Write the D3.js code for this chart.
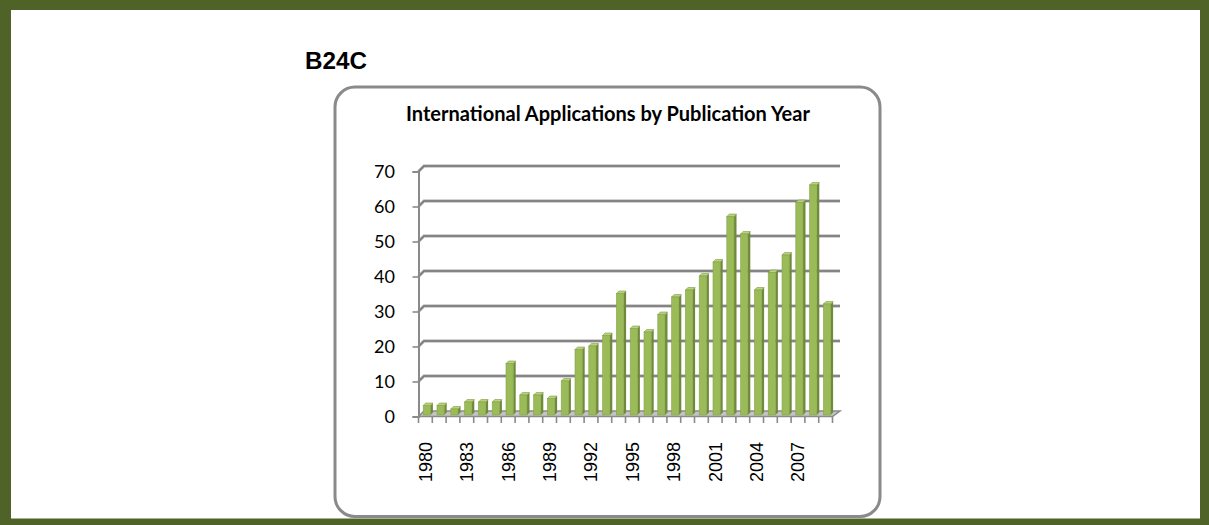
<!DOCTYPE html>
<html>
<head>
<meta charset="utf-8">
<script src="https://cdn.jsdelivr.net/npm/d3@7"></script>
<style>
  html, body { margin: 0; padding: 0; background: #ffffff; }
  svg { display: block; }
</style>
</head>
<body>
<svg id="chart" width="1209" height="525"></svg>
<script>
// ---- data ----
const years = ["1980","1981","1982","1983","1984","1985","1986","1987","1988","1989",
               "1990","1991","1992","1993","1994","1995","1996","1997","1998","1999",
               "2000","2001","2002","2003","2004","2005","2006","2007","2008","2009"];
const counts = [3,3,2,4,4,4,15,6,6,5,
                10,19,20,23,35,25,24,29,34,36,
                40,44,57,52,36,41,46,61,66,32];
const yTicks = [0,10,20,30,40,50,60,70];
const xTickLabels = ["1980","1983","1986","1989","1992","1995","1998","2001","2004","2007"];
const panelLabel = "B24C";
const chartTitle = "International Applications by Publication Year";

// ---- layout ----
const W = 1209, H = 525;
const svg = d3.select("#chart");

// outer olive frame
svg.append("rect").attr("x",0).attr("y",0).attr("width",W).attr("height",H).attr("fill","#4f6228");
svg.append("rect").attr("x",11).attr("y",10).attr("width",1189).attr("height",508.5).attr("fill","#ffffff");

// panel label
svg.append("text").attr("x",305).attr("y",69)
  .attr("font-family","'Liberation Sans', Arial, sans-serif").attr("font-weight","bold")
  .attr("font-size",23).attr("textLength",62).attr("lengthAdjust","spacingAndGlyphs")
  .attr("fill","#000").text(panelLabel);

// chart box
svg.append("rect").attr("x",335).attr("y",87).attr("width",545).attr("height",429.5)
  .attr("rx",20).attr("ry",20).attr("fill","#ffffff")
  .attr("stroke","#8a8a8a").attr("stroke-width",3);

// title
const title = svg.append("text").attr("x",608).attr("y",121).attr("text-anchor","middle")
  .attr("font-family","Lato, 'Open Sans', sans-serif").attr("font-weight","bold")
  .attr("font-size",16).attr("fill","#000").text(chartTitle);
const tw = title.node().getComputedTextLength();
title.attr("font-size", 16 * 404 / tw);

// scales
const x = d3.scaleBand().domain(years).range([418.5, 832.5]);
const y = d3.scaleLinear().domain([0,70]).range([416.5, 171.5]);
const DX = 5.5, DY = -5.5;        // wall depth
const bw = x.bandwidth();

const grid = svg.append("g");
// back-wall gridlines with perspective diagonal
yTicks.filter(v => v > 0).forEach(v => {
  const p = d3.path();
  p.moveTo(x.range()[0], y(v));
  p.lineTo(x.range()[0] + DX, y(v) + DY);
  p.lineTo(x.range()[1] + DX + 2, y(v) + DY);
  grid.append("path").attr("d", p.toString()).attr("fill","none")
    .attr("stroke","#a6a6a6").attr("stroke-width",3);
  grid.append("path").attr("d", p.toString()).attr("fill","none")
    .attr("stroke","#7a7a7a").attr("stroke-width",1.4);
});

// floor
const floor = d3.path();
floor.moveTo(x.range()[0], y(0));
floor.lineTo(x.range()[1], y(0));
floor.lineTo(x.range()[1] + DX + 2, y(0) + DY);
floor.lineTo(x.range()[0] + DX, y(0) + DY);
floor.closePath();
grid.append("path").attr("d", floor.toString()).attr("fill","#c4c4c4")
  .attr("stroke","#8a8a8a").attr("stroke-width",1.5);

// x ticks at band boundaries
const tickXs = years.map(d => x(d)).concat([x.range()[1]]);
grid.selectAll("line.xt").data(tickXs).enter().append("line")
  .attr("x1", d => d).attr("x2", d => d)
  .attr("y1", y(0)).attr("y2", y(0) + 6.5)
  .attr("stroke","#8a8a8a").attr("stroke-width",1.6);

// y axis
const yAxis = d3.axisLeft(y).tickValues(yTicks).tickSize(6).tickPadding(17.5);
const ya = svg.append("g").attr("transform", `translate(${x.range()[0]},0)`).call(yAxis);
ya.select(".domain").attr("stroke","#8a8a8a").attr("stroke-width",2);
ya.selectAll(".tick line").attr("stroke","#8a8a8a").attr("stroke-width",1.6);
ya.selectAll(".tick text").attr("font-family","Lato, 'Open Sans', sans-serif")
  .attr("font-size",18).attr("fill","#000");

// 3D bars
const bd = 2.5, fw = 7.2, off = 4.7;
const bars = svg.append("g");
years.forEach((yr, i) => {
  const v = counts[i];
  const x0 = x(yr) + off, x1 = x0 + fw;
  const yt = y(v) - 0.5, yb = y(0) - 1.5;
  // side face
  bars.append("path").attr("d",
    `M${x1},${yb}L${x1+bd},${yb-bd}L${x1+bd},${yt-bd}L${x1},${yt}Z`)
    .attr("fill","#6f8a3a");
  // top face
  bars.append("path").attr("d",
    `M${x0},${yt}L${x0+bd},${yt-bd}L${x1+bd},${yt-bd}L${x1},${yt}Z`)
    .attr("fill","#b8d37c").attr("stroke","#7f9c45").attr("stroke-width",0.6);
  // front face
  bars.append("rect").attr("x",x0).attr("y",yt).attr("width",fw).attr("height",yb-yt)
    .attr("fill","#9bbb59").attr("stroke","#86a54a").attr("stroke-width",0.6);
});

// x tick labels (rotated)
svg.append("g").selectAll("text").data(xTickLabels).enter().append("text")
  .attr("transform", d => `translate(${x(d) + bw/2},442) rotate(-90)`)
  .attr("text-anchor","end").attr("dy","0.35em")
  .attr("font-family","'Liberation Sans', Arial, sans-serif").attr("font-size",18)
  .attr("fill","#000").text(d => d);
</script>
</body>
</html>
